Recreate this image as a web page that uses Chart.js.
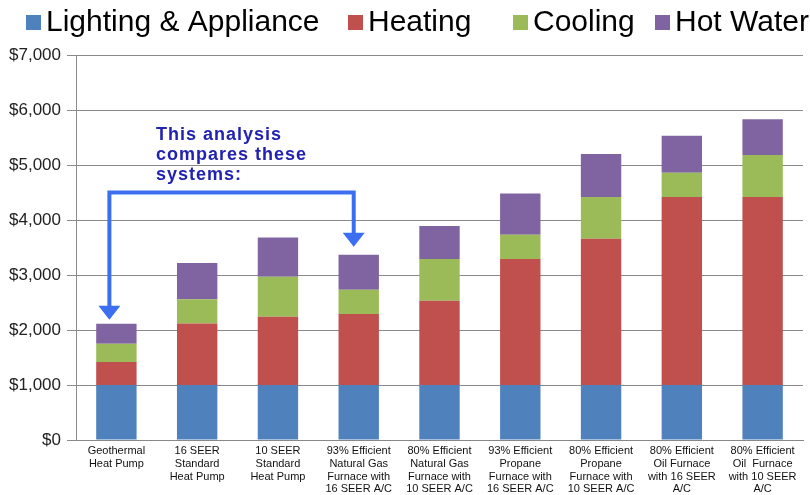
<!DOCTYPE html>
<html>
<head>
<meta charset="utf-8">
<script src="https://cdn.jsdelivr.net/npm/chart.js@4"></script>
<style>
  html, body { margin: 0; padding: 0; background: #fff; }
  #wrap { width: 810px; height: 495px; }
</style>
</head>
<body>
<div id="wrap"><canvas id="c" width="810" height="495"></canvas></div>
<script>
const categories = [
  ["Geothermal", "Heat Pump"],
  ["16 SEER", "Standard", "Heat Pump"],
  ["10 SEER", "Standard", "Heat Pump"],
  ["93% Efficient", "Natural Gas", "Furnace with", "16 SEER A/C"],
  ["80% Efficient", "Natural Gas", "Furnace with", "10 SEER A/C"],
  ["93% Efficient", "Propane", "Furnace with", "16 SEER A/C"],
  ["80% Efficient", "Propane", "Furnace with", "10 SEER A/C"],
  ["80% Efficient", "Oil Furnace", "with 16 SEER", "A/C"],
  ["80% Efficient", "Oil  Furnace", "with 10 SEER", "A/C"]
];
const seriesNames = ["Lighting & Appliance", "Heating", "Cooling", "Hot Water"];
const lighting = [1000, 1000, 1000, 1000, 1000, 1000, 1000, 1000, 1000];
const heating  = [420, 1120, 1240, 1290, 1530, 2290, 2660, 3420, 3420];
const cooling  = [330, 440, 730, 440, 760, 440, 760, 440, 760];
const hotWater = [365, 660, 710, 640, 600, 750, 780, 670, 650];
const yTicks = [0, 1000, 2000, 3000, 4000, 5000, 6000, 7000];
const noteLines = ["This analysis", "compares these", "systems:"];
const comparedIndices = [0, 3];

const colors = ["#4f81bd", "#c0504d", "#9bbb59", "#8064a2"];
const FONT = "'Liberation Sans', Arial, sans-serif";

const customDraw = {
  id: 'customDraw',
  afterDraw(chart) {
    const ctx = chart.ctx;
    const xs = chart.scales.x, ys = chart.scales.y;
    // Legend
    const legendX = [26, 348, 513, 655];
    ctx.save();
    ctx.font = "30px " + FONT;
    ctx.textBaseline = 'alphabetic';
    ctx.textAlign = 'left';
    chart.data.datasets.forEach((ds, i) => {
      ctx.fillStyle = ds.backgroundColor;
      ctx.fillRect(legendX[i], 15, 15, 15);
      ctx.fillStyle = '#000';
      ctx.fillText(ds.label, legendX[i] + 20, 31);
    });
    ctx.restore();

    // Annotation arrows
    const totals = lighting.map((v, i) => v + heating[i] + cooling[i] + hotWater[i]);
    const arrowColor = '#3c6ef0';
    const yLine = ys.getPixelForValue(4500);
    const xA = xs.getPixelForValue(comparedIndices[0]) - 7;
    const xB = xs.getPixelForValue(comparedIndices[1]) - 5;
    const tipA = ys.getPixelForValue(totals[comparedIndices[0]]) - 4;
    const tipB = ys.getPixelForValue(totals[comparedIndices[1]]) - 8;
    ctx.save();
    ctx.strokeStyle = arrowColor;
    ctx.fillStyle = arrowColor;
    ctx.lineWidth = 4;
    ctx.lineJoin = 'miter';
    ctx.beginPath();
    ctx.moveTo(xA, tipA - 12);
    ctx.lineTo(xA, yLine);
    ctx.lineTo(xB, yLine);
    ctx.lineTo(xB, tipB - 12);
    ctx.stroke();
    [[xA, tipA], [xB, tipB]].forEach(([x, t]) => {
      ctx.beginPath();
      ctx.moveTo(x - 11, t - 14);
      ctx.lineTo(x + 11, t - 14);
      ctx.lineTo(x, t);
      ctx.closePath();
      ctx.fill();
    });
    ctx.restore();

    // Annotation text
    ctx.save();
    ctx.font = "bold 18px " + FONT;
    ctx.fillStyle = '#2222b2';
    ctx.textAlign = 'left';
    ctx.textBaseline = 'alphabetic';
    try { ctx.letterSpacing = '1px'; } catch (e) {}
    noteLines.forEach((t, i) => ctx.fillText(t, 156, 140 + i * 20));
    ctx.restore();
  }
};

new Chart(document.getElementById('c'), {
  type: 'bar',
  data: {
    labels: categories,
    datasets: [lighting, heating, cooling, hotWater].map((d, i) => ({
      label: seriesNames[i],
      data: d,
      backgroundColor: colors[i],
      borderWidth: 0,
      barPercentage: 0.5,
      categoryPercentage: 1.0
    }))
  },
  options: {
    responsive: false,
    animation: false,
    layout: { padding: { top: 55, right: 7, left: 0, bottom: 0 } },
    plugins: { legend: { display: false }, tooltip: { enabled: false } },
    scales: {
      x: {
        stacked: true,
        grid: { display: false, drawTicks: false },
        border: { display: true, color: '#888', width: 1 },
        ticks: {
          color: '#111',
          font: { family: FONT, size: 11, lineHeight: 1.15 },
          maxRotation: 0, minRotation: 0, autoSkip: false, padding: 5
        },
        afterFit(scale) { scale.height = 55; }
      },
      y: {
        stacked: true,
        min: 0, max: 7000,
        afterBuildTicks(scale) { scale.ticks = yTicks.map(v => ({ value: v })); },
        grid: { color: '#8a8a8a', lineWidth: 1, tickLength: 9, drawTicks: true },
        border: { display: true, color: '#8a8a8a', width: 1 },
        ticks: {
          color: '#222',
          font: { family: FONT, size: 17 },
          padding: 6,
          callback: v => '$' + v.toLocaleString('en-US')
        },
        afterFit(scale) { scale.width = 76; }
      }
    }
  },
  plugins: [customDraw]
});
</script>
</body>
</html>
